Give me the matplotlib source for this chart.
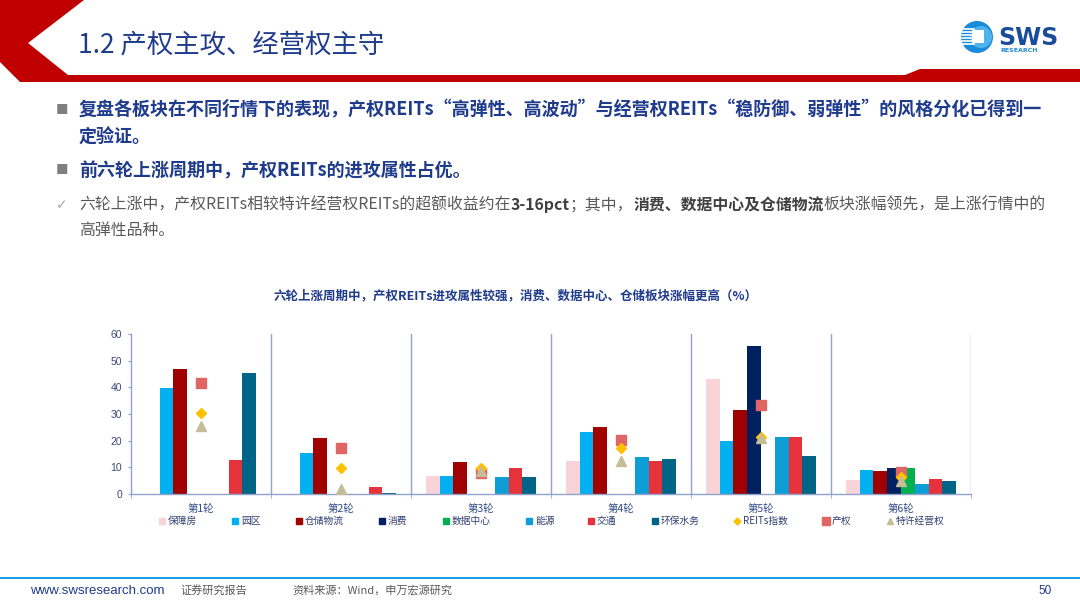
import matplotlib
matplotlib.use('Agg')
import matplotlib.pyplot as plt
from matplotlib.patches import Polygon, Circle, Rectangle
import numpy as np

plt.rcParams['font.family'] = ['Noto Sans CJK SC', 'DejaVu Sans']

# data (%)
rounds = ['第1轮', '第2轮', '第3轮', '第4轮', '第5轮', '第6轮']
baozhangfang = [0, 0, 6.6, 12.5, 43.0, 5.4]
yuanqu = [39.6, 15.2, 6.6, 23.2, 20.0, 9.0]
cangchu = [46.7, 21.1, 12.1, 25.0, 31.4, 8.7]
xiaofei = [0, 0, 0, 0, 55.6, 9.7]
shujuzhongxin = [0, 0, 0, 0, 0, 9.7]
nengyuan = [0, 0, 6.2, 13.7, 21.2, 3.6]
jiaotong = [12.8, 2.8, 9.6, 12.4, 21.5, 5.5]
huanbao = [45.3, 0.3, 6.5, 13.3, 14.3, 4.9]
reits_index = [30.5, 9.7, 9.6, 17.1, 21.3, 6.3]
chanquan = [41.8, 17.2, 7.7, 20.1, 33.2, 8.4]
texu = [25.6, 1.9, 8.5, 12.5, 21.0, 4.8]

bar_names = ['保障房', '园区', '仓储物流', '消费', '数据中心', '能源', '交通', '环保水务']
bar_values = [baozhangfang, yuanqu, cangchu, xiaofei, shujuzhongxin, nengyuan, jiaotong, huanbao]
bar_colors = ['#F8D3D7', '#00B0F0', '#A00000', '#002060', '#00B050', '#0E9ED6', '#E5323B', '#006486']

navy = '#1F3B8C'
axis_col = '#8FA3CC'

fig = plt.figure(figsize=(10.8, 6.08), dpi=100)

# background layer in pixel coordinates
bg = fig.add_axes([0, 0, 1, 1])
bg.set_xlim(0, 1080)
bg.set_ylim(608, 0)
bg.axis('off')

red = '#C00000'
bg.add_patch(Polygon([(0, 0), (84, 0), (28, 43), (68, 75), (905, 75), (920, 69),
                      (1080, 69), (1080, 82), (72, 82), (20, 82), (0, 62)],
                     closed=True, color=red, lw=0))
bg.text(78, 45, '1.2 产权主攻、经营权主守', fontsize=19, color=navy, va='center', ha='left')

# logo
bg.add_patch(Circle((977, 37), 16, color='#1A8BD8', lw=0))
bg.add_patch(Circle((981, 37), 11, color='#4FB3EE', lw=0))
for yy in np.arange(29, 47, 3):
    bg.plot([962, 974], [yy, yy], color='white', lw=1.2)
bg.add_patch(Rectangle((972, 30), 12, 13, color='white', lw=0))
bg.text(998, 38, 'SWS', fontsize=17, weight='bold', color='#1A4C9C', va='center', ha='left',
        family='DejaVu Sans')
bg.text(1000, 51, 'RESEARCH', fontsize=4.5, weight='bold', color='#1E88D8', va='center', ha='left',
        family='DejaVu Sans')

# body text
bg.text(62, 110, '■', fontsize=9, color='#7F7F7F', va='center', ha='center')
bg.text(79, 110, '复盘各板块在不同行情下的表现，产权REITs“高弹性、高波动”与经营权REITs“稳防御、弱弹性”的风格分化已得到一',
        fontsize=13.0, weight='bold', color=navy, va='center', ha='left')
bg.text(79, 137, '定验证。', fontsize=13.0, weight='bold', color=navy, va='center', ha='left')
bg.text(62, 171, '■', fontsize=9, color='#7F7F7F', va='center', ha='center')
bg.text(79, 171, '前六轮上涨周期中，产权REITs的进攻属性占优。', fontsize=13.0, weight='bold',
        color=navy, va='center', ha='left')

bg.text(62, 205, '✓', fontsize=10, color='#A6A6A6', va='center', ha='center',
        family=['DejaVu Sans'])
renderer = fig.canvas.get_renderer()
parts = [('六轮上涨中，产权REITs相较特许经营权REITs的超额收益约在', False), ('3-16pct', True),
         ('；其中，', False), ('消费、数据中心及仓储物流', True), ('板块涨幅领先，是上涨行情中的', False)]
xpos = 79
for s, b in parts:
    t = bg.text(xpos, 205, s, fontsize=11.4, weight='bold' if b else 'normal',
                color='#404040' if b else '#595959', va='center', ha='left')
    xpos += t.get_window_extent(renderer).width
bg.text(79, 230, '高弹性品种。', fontsize=11.4, color='#595959', va='center', ha='left')

# chart title
bg.text(516, 296, '六轮上涨周期中，产权REITs进攻属性较强，消费、数据中心、仓储板块涨幅更高（%）',
        fontsize=9, weight='bold', color=navy, va='center', ha='center')

# chart
ax = fig.add_axes([131 / 1080, 1 - 494 / 608, 840 / 1080, 160 / 608])
x = np.arange(len(rounds))
w = 0.0986
for i, (vals, col) in enumerate(zip(bar_values, bar_colors)):
    ax.bar(x + (i - 3.5) * w, vals, w, color=col, zorder=2, lw=0)
ax.plot(x, chanquan, 's', color='#E06666', ms=7, ls='none', zorder=3)
ax.plot(x, reits_index, 'D', color='#FFC000', ms=5, ls='none', zorder=4)
ax.plot(x, texu, '^', color='#C4BD97', ms=6.5, ls='none', zorder=5)

ax.set_xlim(-0.5, 5.5)
ax.set_ylim(0, 60)
for b in np.arange(0.5, 6, 1):
    ax.axvline(b, color=axis_col, lw=1, zorder=1)
for s in ['top', 'right']:
    ax.spines[s].set_visible(False)
for s in ['left', 'bottom']:
    ax.spines[s].set_color(axis_col)
    ax.spines[s].set_linewidth(1)
ax.set_yticks(range(0, 61, 10))
ax.set_xticks(x)
ax.set_xticklabels(rounds)
ax.set_xticks(np.arange(-0.5, 6, 1), minor=True)
ax.tick_params(axis='x', which='major', length=0, pad=7, labelsize=7.5, labelcolor='#2F4A8A')
ax.tick_params(axis='x', which='minor', length=3, color=axis_col, direction='out')
ax.tick_params(axis='y', length=2.5, pad=4, color=axis_col, labelsize=7.5, labelcolor='#3E4C7A')
for lab in ax.get_yticklabels():
    lab.set_family('Liberation Sans')

# legend
leg_x = [161.7, 235, 299, 381.7, 445.7, 529, 590.7, 655, 736.7, 826, 890]
leg_names = bar_names + ['REITs指数', '产权', '特许经营权']
leg_marks = ['s'] * 8 + ['D', 's', '^']
leg_cols = bar_colors + ['#FFC000', '#E06666', '#C4BD97']
leg_ms = [4] * 8 + [3.5, 6, 4.5]
for lx, nm, mk, c, m in zip(leg_x, leg_names, leg_marks, leg_cols, leg_ms):
    bg.plot(lx, 521, mk, color=c, ms=m)
    bg.text(lx + 6, 521, nm, fontsize=7, color='#2F3F70', va='center', ha='left')

# footer
bg.plot([0, 1080], [578, 578], color='#1BA1E2', lw=1.5)
bg.text(30, 591, 'www.swsresearch.com', fontsize=9.5, color=navy, va='center', ha='left',
        family='Liberation Sans')
bg.text(180, 590, '证券研究报告', fontsize=8, color='#595959', va='center', ha='left')
bg.text(292, 590, '资料来源：Wind，申万宏源研究', fontsize=8, color='#595959', va='center', ha='left')
bg.text(1045, 591, '50', fontsize=8.5, color=navy, va='center', ha='center', family='Liberation Sans')

fig.savefig('out.png', dpi=100)
